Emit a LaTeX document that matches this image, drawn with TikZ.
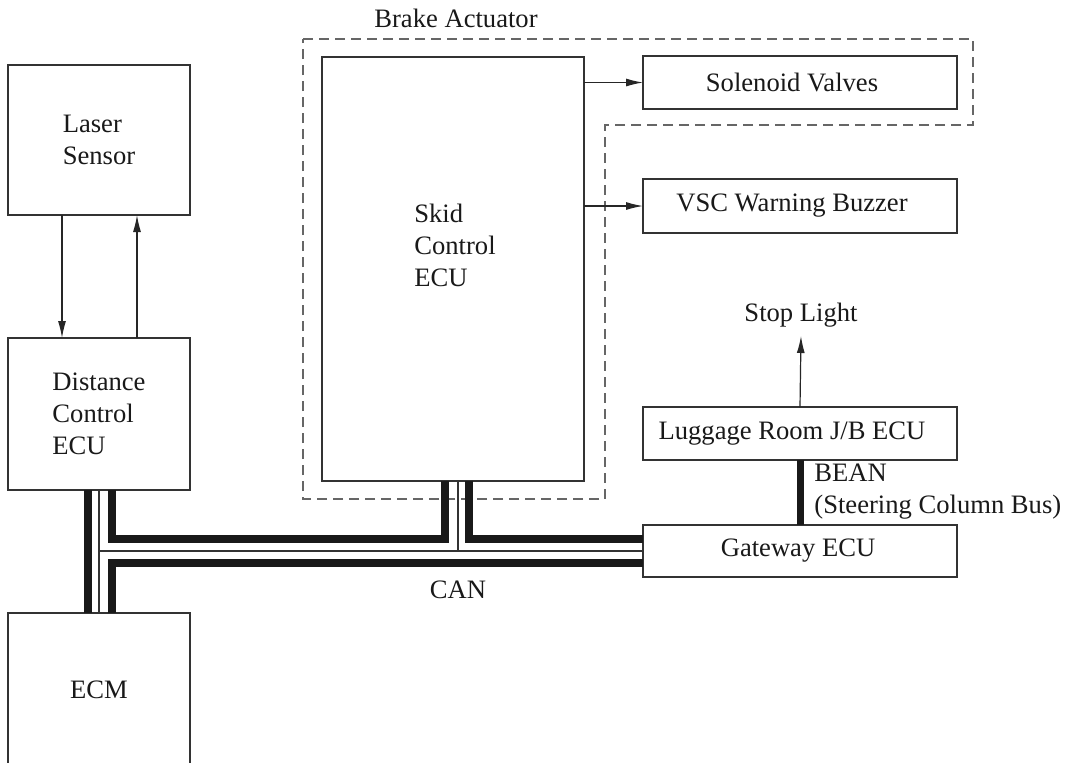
\documentclass[tikz,border=0pt]{standalone}
\usepackage{fontspec}
\setmainfont{Liberation Serif}
\usetikzlibrary{arrows.meta}
\begin{document}
\begin{tikzpicture}[x=0.5pt,y=-0.5pt,
  box/.style={draw=black!80, line width=0.6pt, rectangle, inner sep=0pt, outer sep=0pt},
  txt/.style={font=\fontsize{13.3}{16}\selectfont, text=black!90, inner sep=0pt},
  arr/.style={draw=black!85, line width=0.6pt, -{Latex[length=8.5pt,width=4pt]}},
  bus/.style={draw=black!90, line width=4pt},
  thinbus/.style={draw=black!80, line width=0.6pt},
  actuator/.style={draw=black!60, line width=0.6pt, dash pattern=on 5pt off 3pt}]
\clip (0,0) rectangle (1065,762);
\fill[white] (0,0) rectangle (1065,762);

% brake actuator outline
\draw[actuator] (303,39) -- (973,39) -- (973,125) -- (605,125) -- (605,499) -- (303,499) -- cycle;
\node[txt] (brake) at (456,18) {Brake Actuator};

% boxes
\node[box, txt, minimum width=91pt, minimum height=75pt, align=left] (laser) at (99,140) {Laser\\Sensor};
\node[box, txt, minimum width=91pt, minimum height=76pt, align=left] (dce) at (99,414) {Distance\\Control\\ECU};
\node[box, txt, minimum width=91pt, minimum height=77pt] (ecm) at (99,690) {ECM};
\node[box, minimum width=131pt, minimum height=212pt] (skid) at (453,269) {};
\node[txt, align=left] (skidtext) at (455,245) {Skid\\Control\\ECU};
\node[box, minimum width=157pt, minimum height=26.5pt,
  label={[txt, xshift=-4pt]center:Solenoid Valves}] (sol) at (800,82.5) {};
\node[box, minimum width=157pt, minimum height=27pt,
  label={[txt, xshift=-4pt]center:VSC Warning Buzzer}] (vsc) at (800,206) {};
\node[box, minimum width=157pt, minimum height=26.5pt,
  label={[txt, xshift=-4pt]center:Luggage Room J/B ECU}] (lug) at (800,433.5) {};
\node[box, minimum width=157pt, minimum height=26pt,
  label={[txt, xshift=-1pt]center:Gateway ECU}] (gw) at (800,551) {};

% arrows
\draw[arr] ([xshift=27pt]laser.south west) -- ([xshift=27pt]dce.north west);
\draw[arr] ([xshift=64.5pt]dce.north west) -- ([xshift=64.5pt]laser.south west);
\draw[arr] (skid.east |- sol.west) -- (sol.west);
\draw[arr] (skid.east |- vsc.west) -- (vsc.west);
\node[txt, inner sep=4pt, anchor=south] (stop) at (801,336) {Stop Light};
\draw[arr] (lug.north) -- (stop.south);

% BEAN
\draw[bus, line width=3.5pt] (lug.south) -- (gw.north);
\node[txt, anchor=west, align=left] (bean) at (814,492) {BEAN\\(Steering Column Bus)};

% CAN bus
\coordinate (xa) at (87.5,0);
\coordinate (xb) at (99,0);
\coordinate (xc) at (112,0);
\coordinate (xd) at (444.5,0);
\coordinate (xe) at (458,0);
\coordinate (xf) at (469,0);
\coordinate (yp) at (0,539);
\coordinate (yq) at (0,551);
\coordinate (yr) at (0,563);
\draw[bus] (dce.south -| xa) -- (ecm.north -| xa);
\draw[bus] (dce.south -| xc) |- (xd |- yp) -- (skid.south -| xd);
\draw[bus] (skid.south -| xf) |- (gw.west |- yp);
\draw[bus] (ecm.north -| xc) |- (gw.west |- yr);
\draw[thinbus] (dce.south -| xb) -- (ecm.north -| xb);
\draw[thinbus] (xb |- yq) -- (gw.west |- yq);
\draw[thinbus] (skid.south -| xe) -- (xe |- yq);
\node[txt] (can) at (458,590) {CAN};
\end{tikzpicture}
\end{document}
